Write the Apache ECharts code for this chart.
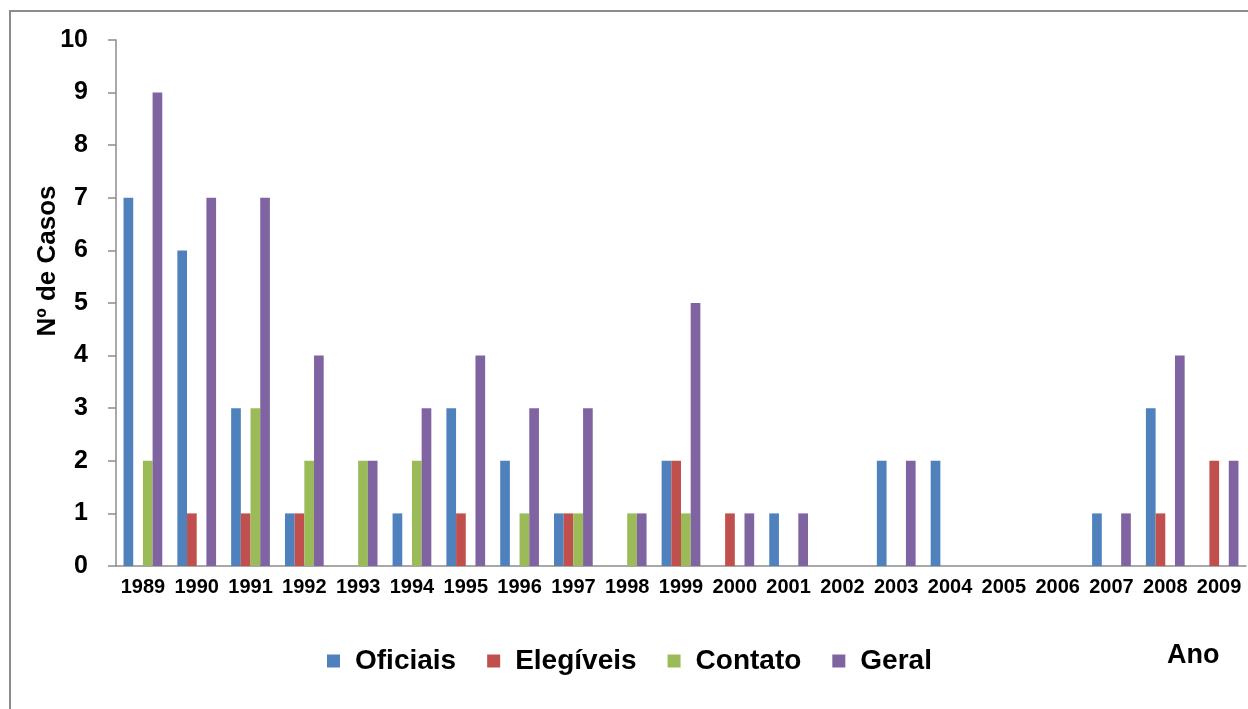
<!DOCTYPE html>
<html>
<head>
<meta charset="utf-8">
<script src="https://cdn.jsdelivr.net/npm/echarts@6/dist/echarts.min.js"></script>
<style>
  html, body { margin: 0; padding: 0; background: #fff; }
  #main { width: 1248px; height: 709px; }
</style>
</head>
<body>
<div id="main"></div>
<script>
var anos = ['1989','1990','1991','1992','1993','1994','1995','1996','1997','1998','1999',
            '2000','2001','2002','2003','2004','2005','2006','2007','2008','2009'];
var oficiais   = [7, 6, 3, 1, 0, 1, 3, 2, 1, 0, 2, 0, 1, 0, 2, 2, 0, 0, 1, 3, 0];
var elegiveis  = [0, 1, 1, 1, 0, 0, 1, 0, 1, 0, 2, 1, 0, 0, 0, 0, 0, 0, 0, 1, 2];
var contato    = [2, 0, 3, 2, 2, 2, 0, 1, 1, 1, 1, 0, 0, 0, 0, 0, 0, 0, 0, 0, 0];
var geral      = [9, 7, 7, 4, 2, 3, 4, 3, 3, 1, 5, 1, 1, 0, 2, 0, 0, 0, 1, 4, 2];

var fonte = '"Liberation Sans", Arial, sans-serif';
var myChart = echarts.init(document.getElementById('main'));

function barra(nome, dados, cor) {
    return {
        name: nome,
        type: 'bar',
        data: dados,
        barGap: '0%',
        barCategoryGap: '28%',
        itemStyle: { color: cor }
    };
}

var option = {
    backgroundColor: '#fff',
    animation: false,
    textStyle: { fontFamily: fonte },
    graphic: [
        {
            type: 'rect',
            shape: { x: 10, y: 11, width: 1260, height: 720 },
            style: { fill: 'none', stroke: '#8c8c8c', lineWidth: 2 }
        },
        {
            type: 'text',
            x: 1167, y: 656,
            style: { text: 'Ano', font: 'bold 27px ' + fonte, fill: '#000', verticalAlign: 'middle' }
        },
        {
            type: 'text',
            x: 48, y: 261,
            rotation: Math.PI / 2,
            style: { text: 'Nº de Casos', font: 'bold 26px ' + fonte, fill: '#000', align: 'center', verticalAlign: 'middle' }
        }
    ],
    legend: {
        data: ['Oficiais', 'Elegíveis', 'Contato', 'Geral'],
        left: 322, top: 641,
        itemWidth: 13, itemHeight: 13, itemGap: 31,
        icon: 'rect',
        textStyle: { fontSize: 28, fontWeight: 'bold', color: '#000', lineHeight: 30, padding: [0, 0, 0, 10] }
    },
    grid: { left: 116, right: 2, top: 40, bottom: 143, containLabel: false, outerBoundsMode: 'none' },
    xAxis: {
        type: 'category',
        data: anos,
        axisLine: { lineStyle: { color: '#8c8c8c', width: 1.5 } },
        axisTick: { length: 6, lineStyle: { color: '#8c8c8c', width: 1.5 } },
        axisLabel: { fontSize: 20, fontWeight: 'bold', color: '#000', margin: 11, interval: 0 }
    },
    yAxis: {
        type: 'value',
        min: 0, max: 10, interval: 1,
        axisLine: { show: true, lineStyle: { color: '#8c8c8c', width: 1.5 } },
        axisTick: { show: true, length: 8, lineStyle: { color: '#8c8c8c', width: 1.5 } },
        axisLabel: { fontSize: 25, fontWeight: 'bold', color: '#000', margin: 28 },
        splitLine: { show: false }
    },
    series: [
        barra('Oficiais', oficiais, '#4F81BD'),
        barra('Elegíveis', elegiveis, '#C0504D'),
        barra('Contato', contato, '#9BBB59'),
        barra('Geral', geral, '#8064A2')
    ]
};
myChart.setOption(option);
</script>
</body>
</html>
